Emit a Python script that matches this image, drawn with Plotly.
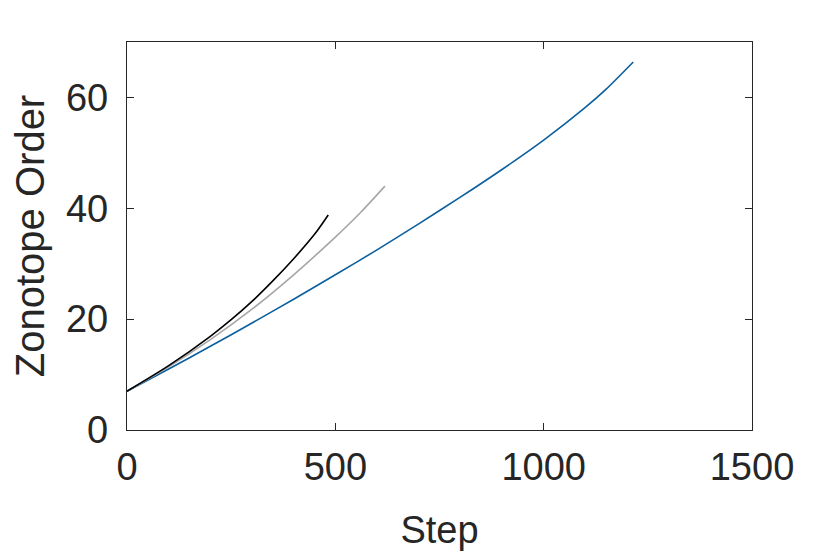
import plotly.graph_objects as go

# step / zonotope order
blue_step = [0, 100, 200, 300, 400, 500, 600, 700, 800, 900, 1000, 1100, 1150, 1215]
blue_order = [7.0, 11.0, 15.1, 19.3, 23.6, 28.0, 32.5, 37.2, 42.0, 47.0, 52.3, 58.2, 61.5, 66.4]

gray_step = [0, 100, 200, 300, 400, 500, 560, 619]
gray_order = [7.0, 11.4, 16.3, 21.8, 28.0, 34.8, 39.2, 44.0]

black_step = [0, 100, 200, 250, 300, 350, 400, 450, 483]
black_order = [7.0, 11.6, 16.9, 19.9, 23.2, 26.9, 30.9, 35.3, 38.8]

x_ticks = [0, 500, 1000, 1500]
y_ticks = [0, 20, 40, 60]

ink = "#262626"
font = dict(family="Liberation Sans, Arial, sans-serif", size=38, color=ink)

fig = go.Figure()
fig.add_trace(go.Scatter(x=blue_step, y=blue_order, mode="lines",
                         line=dict(color="#0a5f9e", width=1.6, shape="spline", smoothing=0.8)))
fig.add_trace(go.Scatter(x=gray_step, y=gray_order, mode="lines",
                         line=dict(color="#a6a6a6", width=1.6, shape="spline", smoothing=0.8)))
fig.add_trace(go.Scatter(x=black_step, y=black_order, mode="lines",
                         line=dict(color="#000000", width=1.6, shape="spline", smoothing=0.8)))

axis_common = dict(showline=True, linecolor=ink, linewidth=1.3, mirror="ticks",
                   ticks="inside", ticklen=7, tickwidth=1.3, tickcolor=ink,
                   showgrid=False, zeroline=False, tickfont=font)

fig.update_xaxes(range=[0, 1500], tickvals=x_ticks, ticklabelstandoff=3,
                 title=dict(text="Step", font=font, standoff=29), **axis_common)
fig.update_yaxes(range=[0, 70], tickvals=y_ticks, ticklabelstandoff=10,
                 title=dict(text="Zonotope Order", font=dict(font, size=40), standoff=10),
                 **axis_common)

# page body adds an 8px offset, so margins are trimmed on the left/top
fig.update_layout(width=830, height=554, showlegend=False,
                  paper_bgcolor="white", plot_bgcolor="white",
                  margin=dict(l=119, r=86, t=34, b=132), font=font)

fig.write_html("out.html")
